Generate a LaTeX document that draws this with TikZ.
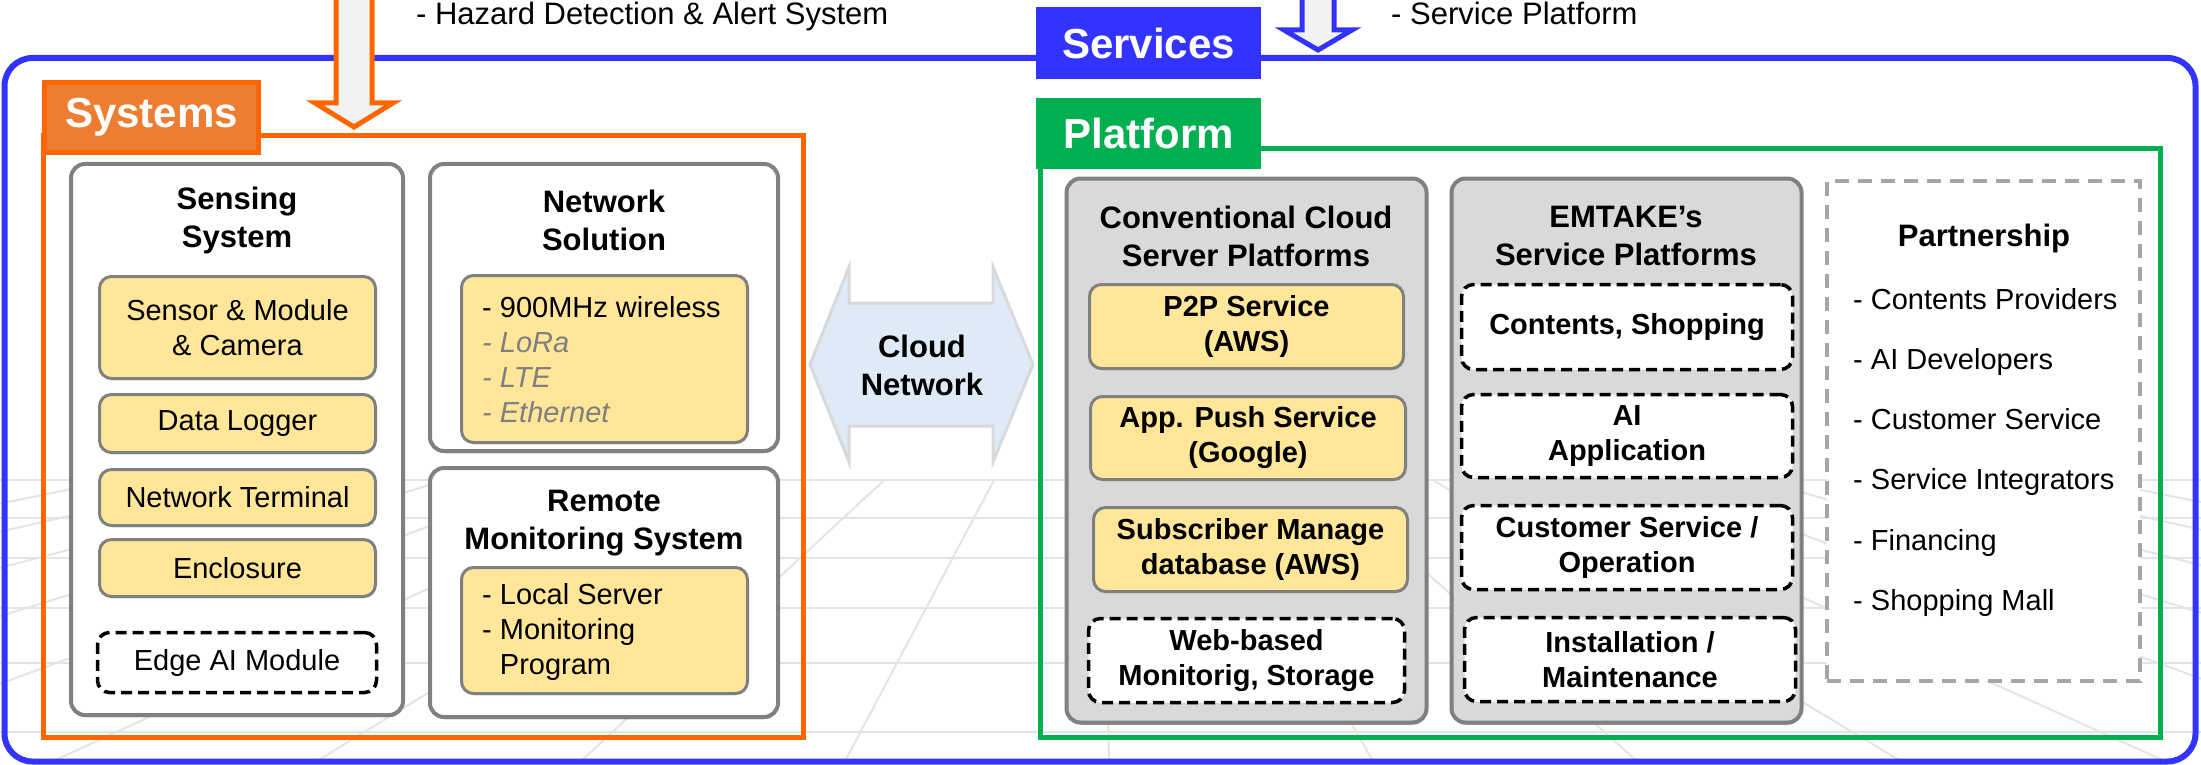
\documentclass[tikz,border=0pt]{standalone}
\usepackage{fontspec}
\setmainfont{Liberation Sans}
\usetikzlibrary{shadows}
\definecolor{cblue}{HTML}{3333FF}
\definecolor{corange}{HTML}{FF6600}
\definecolor{corfill}{HTML}{ED7D31}
\definecolor{cgreen}{HTML}{00B050}
\definecolor{cyellow}{HTML}{FFE699}
\definecolor{cgrayfill}{HTML}{D9D9D9}
\definecolor{cborder}{HTML}{808080}
\definecolor{ccloud}{HTML}{DEEBF7}
\definecolor{ccloudline}{HTML}{D9D9D9}
\definecolor{cgrid}{HTML}{E4E4E4}
\definecolor{ctxtgray}{HTML}{7F7F7F}
\definecolor{cpart}{HTML}{A6A6A6}
\definecolor{carrowfill}{HTML}{F2F2F2}
\newcommand\myBig{\fontsize{42}{50}\selectfont\bfseries}
\newcommand\myTitle{\fontsize{31}{38}\selectfont\bfseries}
\newcommand\myBody{\fontsize{29}{35}\selectfont}
\newcommand\myBodyB{\fontsize{29}{35}\selectfont\bfseries}
\newcommand\myTop{\fontsize{31}{37}\selectfont}
\tikzset{
  grp/.style={draw=cborder, line width=4pt, rounded corners=14pt, fill=white, inner sep=0pt,
    drop shadow={shadow xshift=0.5pt, shadow yshift=-2pt, fill=black!45, opacity=1}},
  graygrp/.style={grp, fill=cgrayfill},
  ybox/.style={draw=cborder, line width=3pt, rounded corners=12pt, fill=cyellow, align=center, inner sep=0pt,
    drop shadow={shadow xshift=0.5pt, shadow yshift=-1.5pt, fill=black!35, opacity=1}},
  dbox/.style={draw=black, line width=3.5pt, dash pattern=on 11pt off 6pt, rounded corners=12pt, fill=white, align=center, inner sep=0pt},
  lab/.style={text=white, font=\myBig, inner sep=0pt},
  ttl/.style={font=\myTitle, align=center, inner sep=0pt},
  txt/.style={font=\myBody, align=left, inner sep=0pt},
  gridline/.style={draw=cgrid, line width=2.5pt},
  bigarrow/.style={line width=5pt, fill=carrowfill, line join=miter}
}
\begin{document}
\begin{tikzpicture}[x=1pt,y=-1pt]
\useasboundingbox (0,0) rectangle (2201,765);
% background perspective grid
\begin{scope}
\clip (0,0) rectangle (2201,765);
\foreach \yy in {480,518,558,608,663,732}{\draw[gridline] (0,\yy) -- (2201,\yy);}
\foreach \k in {-5,...,13}{
  \pgfmathsetmacro\xb{49+265*\k}
  \pgfmathsetmacro\xt{1100+(\xb-1100)*0.414}
  \draw[gridline, line width=2pt] (\xt,480) -- (\xb,763);
}
\end{scope}
% outer blue frame
\draw[cblue, line width=6pt, rounded corners=28pt] (4.5,58) rectangle (2195.5,761.5);
% systems frame
\draw[corange, line width=5pt] (43,136) rectangle (803.5,737.5);
\node[lab, fill=corfill, draw=corange, line width=5pt, minimum width=214pt, minimum height=70pt] (sys) at (151.5,117.5) {Systems};
% platform frame
\draw[cgreen, line width=5pt] (1040.5,149) rectangle (2160.5,737.5);
\node[lab, fill=cgreen, minimum width=225pt, minimum height=71pt] (plat) at (1148.5,133.5) {Platform};
% top arrows
\draw[bigarrow, draw=corange] (336,-10) -- (336,103) -- (315,103) -- (354,127) -- (393,103) -- (372,103) -- (372,-10);
\draw[bigarrow, draw=cblue] (1302,-10) -- (1302,30) -- (1284,30) -- (1318,50) -- (1352,30) -- (1334,30) -- (1334,-10);
\node[lab, fill=cblue, minimum width=225pt, minimum height=72pt] (serv) at (1148.5,43) {Services};
\node[anchor=base west, font=\myTop, inner sep=0pt] (haz) at (416,25) {- Hazard Detection \& Alert System};
\node[anchor=base west, font=\myTop, inner sep=0pt] (spf) at (1391,25) {- Service Platform};
% Sensing system
\node[grp, minimum width=332pt, minimum height=551pt] (sens) at (237,439.5) {};
\node[ttl] (sensT) at (237,220) {Sensing\\System};
\node[ybox, font=\myBody, minimum width=276pt, minimum height=102pt] (sm) at (237.5,327.5) {Sensor \& Module\\\& Camera};
\node[ybox, font=\myBody, minimum width=276pt, minimum height=58pt] (dl) at (237.5,423.5) {Data Logger};
\node[ybox, font=\myBody, minimum width=276pt, minimum height=56pt] (nt) at (237.5,497.5) {Network Terminal};
\node[ybox, font=\myBody, minimum width=276pt, minimum height=57pt] (en) at (237.5,568) {Enclosure};
\node[dbox, font=\myBody, minimum width=279pt, minimum height=60pt] (edge) at (237,662.5) {Edge AI Module};
% Network solution
\node[grp, minimum width=348pt, minimum height=287pt] (net) at (604,307.5) {};
\node[ttl] (netT) at (604,220) {Network\\Solution};
\node[ybox, minimum width=286pt, minimum height=167pt] (netY) at (604.5,359) {};
\node[txt, anchor=west] (netL) at (482,360) {- 900MHz wireless\\\textcolor{ctxtgray}{\itshape - LoRa}\\\textcolor{ctxtgray}{\itshape - LTE}\\\textcolor{ctxtgray}{\itshape - Ethernet}};
% Remote monitoring
\node[grp, minimum width=348pt, minimum height=249pt] (rem) at (604,592.5) {};
\node[ttl] (remT) at (604,523) {Remote\\Monitoring System};
\node[ybox, minimum width=286pt, minimum height=126pt] (remY) at (604.5,630.5) {};
\node[txt, anchor=west] (remL) at (482,632) {- Local Server\\- Monitoring\\\hphantom{- }Program};
% Cloud network
\draw[ccloudline, fill=ccloud, line width=3pt, line join=miter] (810,364.5) -- (849,267) -- (849,303) -- (993,303) -- (993,267) -- (1033,364.5) -- (993,462) -- (993,426) -- (849,426) -- (849,462) -- cycle;
\node[ttl] (cloud) at (922,365) {Cloud\\Network};
% Conventional cloud
\node[graygrp, minimum width=360pt, minimum height=544pt] (conv) at (1246.5,450.5) {};
\node[ttl] (convT) at (1246,236) {Conventional Cloud\\Server Platforms};
\node[ybox, font=\myBodyB, minimum width=314pt, minimum height=84pt] (p2p) at (1246.5,326.5) {P2P Service\\(AWS)};
\node[ybox, font=\myBodyB, minimum width=315pt, minimum height=83pt] (app) at (1248,438) {App. Push Service\\(Google)};
\node[ybox, font=\myBodyB, minimum width=314pt, minimum height=84pt] (sub) at (1250.5,549.5) {Subscriber Manage\\database (AWS)};
\node[dbox, font=\myBodyB, minimum width=316pt, minimum height=84pt] (web) at (1246.5,660.5) {Web-based\\Monitorig, Storage};
% EMTAKE
\node[graygrp, minimum width=350pt, minimum height=544pt] (emt) at (1626.5,450.5) {};
\node[ttl] (emtT) at (1626,236) {EMTAKE’s\\Service Platforms};
\node[dbox, font=\myBodyB, minimum width=331pt, minimum height=85pt] (cs) at (1627,327) {Contents, Shopping};
\node[dbox, font=\myBodyB, minimum width=331pt, minimum height=83pt] (ai) at (1627,436) {AI\\Application};
\node[dbox, font=\myBodyB, minimum width=331pt, minimum height=84pt] (cust) at (1627,547.5) {Customer Service /\\Operation};
\node[dbox, font=\myBodyB, minimum width=331pt, minimum height=84pt] (inst) at (1630,659.5) {Installation /\\Maintenance};
% Partnership
\node[draw=cpart, line width=4pt, dash pattern=on 14pt off 9pt, fill=white, minimum width=313pt, minimum height=500pt, inner sep=0pt] (part) at (1983.5,431) {};
\node[ttl] (partT) at (1984,238) {Partnership};
\node[txt, anchor=base west] (p1) at (1853,309) {- Contents Providers};
\node[txt, anchor=base west] (p2) at (1853,369) {- AI Developers};
\node[txt, anchor=base west] (p3) at (1853,429) {- Customer Service};
\node[txt, anchor=base west] (p4) at (1853,489) {- Service Integrators};
\node[txt, anchor=base west] (p5) at (1853,550) {- Financing};
\node[txt, anchor=base west] (p6) at (1853,610) {- Shopping Mall};
\end{tikzpicture}
\end{document}
